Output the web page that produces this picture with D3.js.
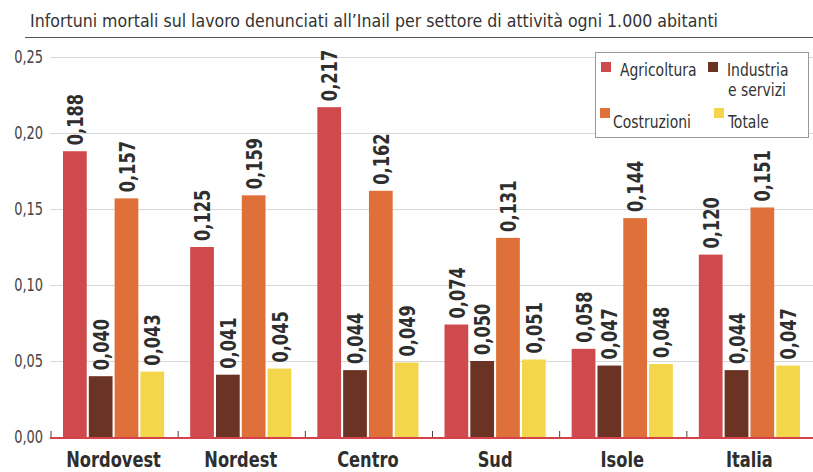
<!DOCTYPE html>
<html>
<head>
<meta charset="utf-8">
<script src="https://d3js.org/d3.v7.min.js"></script>
<style>
  body { margin: 0; background: #fff; }
  svg text { font-family: "DejaVu Sans Condensed", "Liberation Sans Narrow", sans-serif; }
</style>
</head>
<body>
<div id="chart"></div>
<script>
const regions = ["Nordovest", "Nordest", "Centro", "Sud", "Isole", "Italia"];
const sectors = ["Agricoltura", "Industria e servizi", "Costruzioni", "Totale"];
const agricoltura = [0.188, 0.125, 0.217, 0.074, 0.058, 0.120];
const industria   = [0.040, 0.041, 0.044, 0.050, 0.047, 0.044];
const costruzioni = [0.157, 0.159, 0.162, 0.131, 0.144, 0.151];
const totale      = [0.043, 0.045, 0.049, 0.051, 0.048, 0.047];
const yTicks = [0, 0.05, 0.10, 0.15, 0.20, 0.25];
const colors = ["#cf4a4c", "#6b3324", "#e0703a", "#f3d64c"];

const series = [agricoltura, industria, costruzioni, totale];
const rows = regions.map((r, i) => ({
    region: r,
    values: sectors.map((s, j) => ({ sector: s, value: series[j][i] }))
}));

const width = 813, height = 472;
const plotLeft = 50, plotRight = 813, plotTop = 57, plotBottom = 437;
const fmt = v => d3.format(".3f")(v).replace(".", ",");
const fmtTick = v => d3.format(".2f")(v).replace(".", ",");

// squeeze text horizontally to mimic the narrow newspaper font
function condense(sel, f) {
    sel.each(function() {
        const w = this.getComputedTextLength();
        d3.select(this).attr("textLength", w * f).attr("lengthAdjust", "spacingAndGlyphs");
    });
}

const svg = d3.select("#chart").append("svg")
    .attr("width", width).attr("height", height);

// title
svg.append("text")
    .attr("x", 30).attr("y", 27)
    .attr("font-size", 18).attr("fill", "#333")
    .attr("textLength", 688).attr("lengthAdjust", "spacingAndGlyphs")
    .text("Infortuni mortali sul lavoro denunciati all\u2019Inail per settore di attività ogni 1.000 abitanti");
svg.append("line")
    .attr("x1", 25).attr("x2", 813).attr("y1", 37.5).attr("y2", 37.5)
    .attr("stroke", "#555").attr("stroke-width", 1);

const x = d3.scaleBand().domain(regions).range([plotLeft, plotRight]);
const xi = d3.scaleBand().domain(sectors).range([13, x.bandwidth() - 13]).paddingInner(0.08);
const y = d3.scaleLinear().domain([0, 0.25]).range([plotBottom, plotTop]);

// grid + y labels
svg.selectAll(".grid").data(yTicks.slice(1)).join("line")
    .attr("x1", plotLeft).attr("x2", plotRight)
    .attr("y1", d => y(d) + 0.5).attr("y2", d => y(d) + 0.5)
    .attr("stroke", "#d8d8d8").attr("stroke-width", 1);
svg.selectAll(".ylab").data(yTicks).join("text")
    .attr("x", 43).attr("y", d => y(d))
    .attr("dy", "0.35em").attr("text-anchor", "end")
    .attr("font-size", 18).attr("fill", "#444")
    .text(fmtTick)
    .call(condense, 0.8);

// bars
const g = svg.selectAll(".grp").data(rows).join("g")
    .attr("transform", d => `translate(${x(d.region)},0)`);
g.selectAll("rect").data(d => d.values).join("rect")
    .attr("x", d => xi(d.sector))
    .attr("width", xi.bandwidth())
    .attr("y", d => y(d.value))
    .attr("height", d => y(0) - y(d.value))
    .attr("fill", (d, j) => colors[j]);
g.selectAll(".val").data(d => d.values).join("text")
    .attr("transform", d => `translate(${xi(d.sector) + xi.bandwidth() / 2},${y(d.value) - 6}) rotate(-90)`)
    .attr("dy", "0.37em")
    .attr("font-size", 22).attr("font-weight", "bold").attr("fill", "#2e2e2e")
    .text(d => fmt(d.value))
    .call(condense, 0.82);

// baseline and ticks
svg.append("line")
    .attr("x1", plotLeft).attr("x2", plotRight).attr("y1", plotBottom + 1).attr("y2", plotBottom + 1)
    .attr("stroke", "#d6424a").attr("stroke-width", 2);
svg.selectAll(".tick").data(regions).join("line")
    .attr("x1", d => x(d) + 1).attr("x2", d => x(d) + 1)
    .attr("y1", plotBottom).attr("y2", plotBottom - 6)
    .attr("stroke", "#444").attr("stroke-width", 1);

// x labels
svg.selectAll(".xlab").data(regions).join("text")
    .attr("x", d => x(d) + x.bandwidth() / 2).attr("y", 467)
    .attr("text-anchor", "middle")
    .attr("font-size", 21).attr("font-weight", "bold").attr("fill", "#2e2e2e")
    .text(d => d)
    .call(condense, 0.86);

// legend
const lg = svg.append("g");
lg.append("rect").attr("x", 595.5).attr("y", 52.5).attr("width", 213).attr("height", 85)
    .attr("fill", "#fff").attr("stroke", "#999");
const legendItems = [
    { i: 0, sx: 601, sy: 62, tx: 620, ty: 76, lines: ["Agricoltura"] },
    { i: 1, sx: 708, sy: 62, tx: 727, ty: 76, lines: ["Industria", "e servizi"] },
    { i: 2, sx: 600, sy: 108, tx: 613, ty: 128, lines: ["Costruzioni"] },
    { i: 3, sx: 714, sy: 108, tx: 728, ty: 128, lines: ["Totale"] }
];
legendItems.forEach(it => {
    lg.append("rect").attr("x", it.sx).attr("y", it.sy).attr("width", 10).attr("height", 10)
        .attr("fill", colors[it.i]);
    it.lines.forEach((l, k) => {
        lg.append("text").attr("x", it.tx + (k ? 1 : 0)).attr("y", it.ty + k * 20)
            .attr("font-size", 18).attr("fill", "#333")
            .text(l)
            .call(condense, 0.86);
    });
});
</script>
</body>
</html>
